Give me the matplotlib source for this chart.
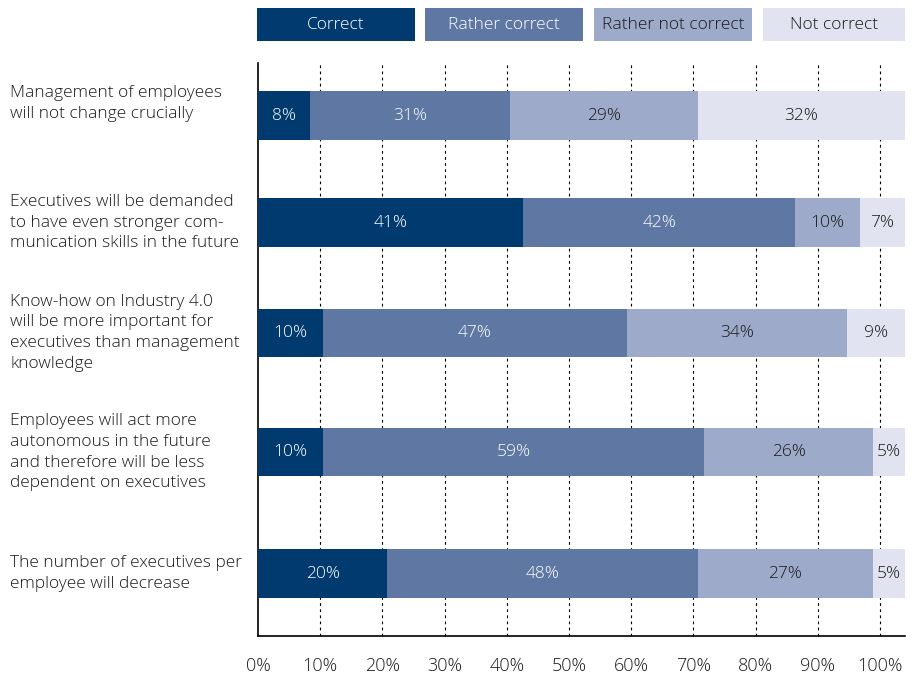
import matplotlib.pyplot as plt
from matplotlib.patches import Rectangle
import numpy as np

plt.rcParams['font.family'] = ['Open Sans', 'DejaVu Sans']
plt.rcParams['font.weight'] = 'light'

categories = ['Management of employees\nwill not change crucially',
              'Executives will be demanded\nto have even stronger com-\nmunication skills in the future',
              'Know-how on Industry 4.0\nwill be more important for\nexecutives than management\nknowledge',
              'Employees will act more\nautonomous in the future\nand therefore will be less\ndependent on executives',
              'The number of executives per\nemployee will decrease']
series = ['Correct', 'Rather correct', 'Rather not correct', 'Not correct']
correct = [8, 41, 10, 10, 20]
rather_correct = [31, 42, 47, 59, 48]
rather_not = [29, 10, 34, 26, 27]
not_correct = [32, 7, 9, 5, 5]
tick_labels = ['0%', '10%', '20%', '30%', '40%', '50%', '60%', '70%', '80%', '90%', '100%']

colors = ['#003a6e', '#5e78a3', '#9eaac9', '#e1e4f0']
text_colors = ['white', 'white', '#1a1a1a', '#1a1a1a']
ypos = [0, 0.995, 2.02, 3.13, 4.26]   # rows are not evenly spaced in the original
label_shift = [-0.11, 0, 0, 0, 0]      # first label sits a bit higher than its bar
axis_scale = 1.04                      # bars run a bit past the 100% tick

fig = plt.figure(figsize=(9.19, 6.75), dpi=100)
ax = fig.add_axes([258 / 919, 1 - 636 / 675, (905 - 258) / 919, (636 - 63) / 675])

values = np.array([correct, rather_correct, rather_not, not_correct], dtype=float)
left = np.zeros(len(categories))
for i, vals in enumerate(values):
    ax.barh(ypos, vals, left=left, height=0.45, color=colors[i], zorder=3)
    for y, l, v in zip(ypos, left, vals):
        ax.text(l + v / 2, y, f'{int(v)}%', ha='center', va='center',
                color=text_colors[i], fontsize=12.5, zorder=4)
    left += vals

ax.set_xlim(0, 100)
ax.set_ylim(4.84, -0.49)
ticks = np.arange(0, 101, 10) / axis_scale
ax.set_xticks(ticks)
ax.set_xticklabels(tick_labels, fontsize=13, color='#1a1a1a')
ax.tick_params(axis='x', length=0, pad=15)
ax.set_yticks([])
for t in ticks[1:]:
    ax.axvline(t, color='black', linestyle=(0, (2.5, 3)), linewidth=0.8, zorder=1)
ax.spines['top'].set_visible(False)
ax.spines['right'].set_visible(False)
ax.spines['left'].set_linewidth(1.2)
ax.spines['bottom'].set_linewidth(1.2)

for y, s, cat in zip(ypos, label_shift, categories):
    ax.annotate(cat, xy=(0, y + s), xycoords=('figure fraction', 'data'),
                xytext=(10, 0), textcoords='offset pixels',
                ha='left', va='center', fontsize=12.5, color='#1a1a1a',
                linespacing=1.4)

# legend boxes across the top
box_x = [257, 425, 594, 763]
box_w = [158, 158, 158, 142]
for i, name in enumerate(series):
    x0 = box_x[i] / 919
    w = box_w[i] / 919
    fig.add_artist(Rectangle((x0, 1 - 41 / 675), w, 33 / 675, transform=fig.transFigure,
                             facecolor=colors[i], edgecolor='none'))
    fig.text(x0 + w / 2, 1 - 25 / 675, name, ha='center', va='center',
             fontsize=12.5, color=text_colors[i])

fig.savefig('out.png', dpi=100)
